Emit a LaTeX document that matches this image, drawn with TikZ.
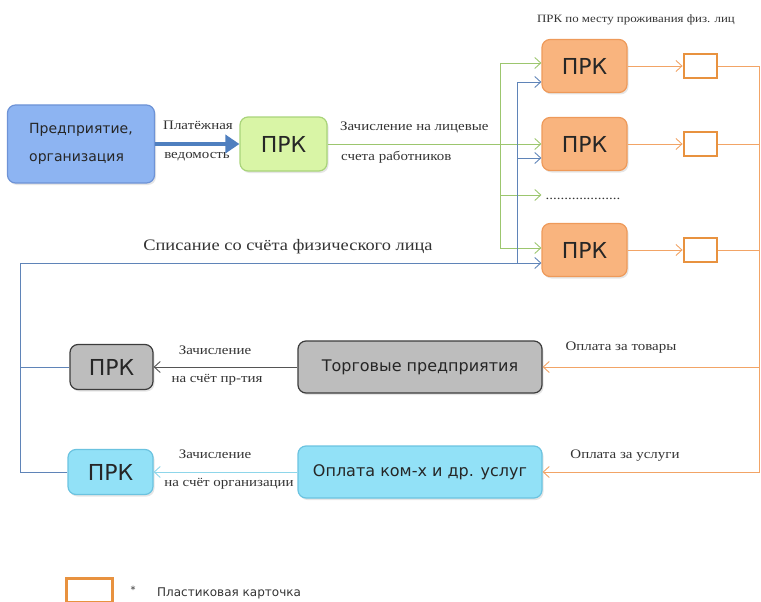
\documentclass[tikz,border=0pt]{standalone}
\usepackage{fontspec}
\setmainfont{Liberation Serif}
\newfontfamily\boxfont{DejaVu Sans}
\newfontfamily\lblfont[FakeStretch=1.15]{Liberation Serif}
\usepackage{xcolor}
\usepackage{tikz}
\usetikzlibrary{shapes,arrows.meta,positioning,calc,shadows}

\definecolor{entblue}{HTML}{8DB4F2}
\definecolor{entedge}{HTML}{6E93D6}
\definecolor{prkgreen}{HTML}{D9F5A6}
\definecolor{greenedge}{HTML}{A9D47A}
\definecolor{prkorange}{HTML}{F9B47E}
\definecolor{orangeedge}{HTML}{EE9A5A}
\definecolor{cardedge}{HTML}{E8923F}
\definecolor{tradegray}{HTML}{BDBDBD}
\definecolor{grayedge}{HTML}{3C3C3C}
\definecolor{servcyan}{HTML}{92E1F7}
\definecolor{cyanedge}{HTML}{6BC3E0}
\definecolor{linegreen}{HTML}{9CC66E}
\definecolor{lineblue}{HTML}{5F84B8}
\definecolor{lineorange}{HTML}{F2A466}
\definecolor{linegray}{HTML}{555555}
\definecolor{linecyan}{HTML}{8ED6EA}
\definecolor{arrowblue}{HTML}{4F7FBF}

\begin{document}
\begin{tikzpicture}[
    x=1pt, y=-1pt,
    box/.style={rectangle, draw, rounded corners=8pt, line width=1.2pt, align=center, inner sep=0pt, text=black!85,
        drop shadow={opacity=0.2, shadow xshift=1.5pt, shadow yshift=-2pt}},
    ent/.style={box, fill=entblue, draw=entedge, minimum width=147pt, minimum height=78pt, align=left, font=\boxfont\fontsize{14}{28}\selectfont},
    prk/.style={box, minimum width=85pt, minimum height=53pt, font=\boxfont\fontsize{22}{26}\selectfont},
    greenprk/.style={prk, fill=prkgreen, draw=greenedge, minimum width=87pt, minimum height=54pt},
    orangeprk/.style={prk, fill=prkorange, draw=orangeedge},
    grayprk/.style={prk, fill=tradegray, draw=grayedge, minimum width=83pt, minimum height=45pt},
    cyanprk/.style={prk, fill=servcyan, draw=cyanedge, minimum height=45pt},
    wide/.style={box, minimum width=244pt, minimum height=52pt, font=\boxfont\fontsize{16}{19}\selectfont},
    card/.style={rectangle, draw=cardedge, line width=2.5pt, fill=white, minimum width=33pt, minimum height=24pt, inner sep=0pt},
    lbl/.style={inner sep=0pt, text=black!80, font=\lblfont\fontsize{13}{15}\selectfont},
    gline/.style={draw=linegreen, line width=0.9pt},
    garr/.style={gline, -{Straight Barb[length=6pt,width=11pt]}},
    bline/.style={draw=lineblue, line width=0.9pt},
    barr/.style={bline, -{Straight Barb[length=6pt,width=11pt]}},
    oline/.style={draw=lineorange, line width=0.9pt},
    oarr/.style={oline, -{Straight Barb[length=6pt,width=11pt]}},
    bigarrow/.style={draw=arrowblue, line width=4.5pt, -{Triangle[length=14pt,width=18pt]}}
]
\useasboundingbox (0,0) rectangle (761,602);

% Enterprise and its bank
\node[ent] (ent) at (81,144) {Предприятие,\\организация};
\node[greenprk] (prk0) at (283.5,144) {ПРК};

% Banks at the place of residence
\node[lbl, font=\lblfont\fontsize{11.2}{13}\selectfont] (title) at (636,20) {ПРК по месту проживания физ. лиц};
\node[orangeprk] (prk1) at (584.5,66) {ПРК};
\node[orangeprk] (prk2) at (584.5,144) {ПРК};
\node[lbl, inner sep=4pt] (dots) at (583,199) {....................};
\node[orangeprk] (prk3) at (584.5,250) {ПРК};

% Plastic cards
\node[card, right=55pt of prk1] (card1) {};
\node[card, right=55pt of prk2] (card2) {};
\node[card, right=55pt of prk3] (card3) {};

% Lower rows
\node[grayprk] (prkT) at (111.5,367) {ПРК};
\node[wide, fill=tradegray, draw=grayedge] (trade) at (420,367) {Торговые предприятия};
\node[cyanprk] (prkS) at (110.5,472) {ПРК};
\node[wide, fill=servcyan, draw=cyanedge] (serv) at (420,472) {Оплата ком-х и др. услуг};

% Legend
\node[card, line width=3pt, minimum width=46pt, minimum height=24pt] (legcard) at (89,590) {};
\node[lbl, font=\boxfont\fontsize{10}{12}\selectfont] (star) at (133,590) {*};
\node[lbl, font=\boxfont\fontsize{12}{14}\selectfont, anchor=west] (legtext) at (157,593) {Пластиковая карточка};

% Labels
\node[lbl] (pay1) at (198,125) {Платёжная};
\node[lbl] (pay2) at (197,157) {ведомость};
\node[lbl, anchor=west] (acc1) at (340,127) {Зачисление на лицевые};
\node[lbl, anchor=west] (acc2) at (341,157) {счета работников};
\node[lbl, font=\lblfont\fontsize{16}{18}\selectfont] (debit) at (288,247) {Списание со счёта физического лица};
\node[lbl] (tr1) at (215,350) {Зачисление};
\node[lbl] (tr2) at (217,380) {на счёт пр-тия};
\node[lbl] (sv1) at (215,454) {Зачисление};
\node[lbl] (sv2) at (229,484) {на счёт организации};
\node[lbl] (goods) at (621,348) {Оплата за товары};
\node[lbl] (servs) at (625,456) {Оплата за услуги};

% Coordinates for the bus lines
\coordinate (gtop) at (500,63);
\coordinate (gdot) at (500,195);
\coordinate (gbot) at (500,248);
\coordinate (btop) at (517,82);
\coordinate (bmid) at (517,158);
\coordinate (bv) at (517,263);
\coordinate (bl) at (20,263);
\coordinate (rtop) at (759,66);
\coordinate (rbot) at (759,472);

% Arrows
\draw[bigarrow] (ent) -- (prk0);
\draw[gline] (gtop) -- (gbot);
\draw[garr] (prk0.east) -- (prk0.east -| prk2.west);
\draw[garr] (gtop) -- (gtop -| prk1.west);
\draw[garr] (gdot) -- (gdot -| dots.west);
\draw[garr] (gbot) -- (gbot -| prk3.west);
\draw[barr] (prkS.west) -- (prkS.west -| bl) -- (bl) -- (bl -| prk3.west);
\draw[bline] (prkT.west) -- (prkT.west -| bl);
\draw[bline] (bv) -- (btop);
\draw[barr] (btop) -- (btop -| prk1.west);
\draw[barr] (bmid) -- (bmid -| prk2.west);
\draw[oarr] (prk1) -- (card1);
\draw[oarr] (prk2) -- (card2);
\draw[oarr] (prk3) -- (card3);
\draw[oarr] (card1.east) -- (rtop) -- (rbot) -- (serv.east);
\draw[oline] (card2.east) -- (card2.east -| rtop);
\draw[oline] (card3.east) -- (card3.east -| rtop);
\draw[oarr] (trade.east -| rtop) -- (trade.east);
\draw[draw=linegray, line width=0.9pt, -{Straight Barb[length=6pt,width=11pt]}] (trade) -- (prkT);
\draw[draw=linecyan, line width=0.9pt, -{Straight Barb[length=6pt,width=11pt]}] (serv) -- (prkS);

\end{tikzpicture}
\end{document}
